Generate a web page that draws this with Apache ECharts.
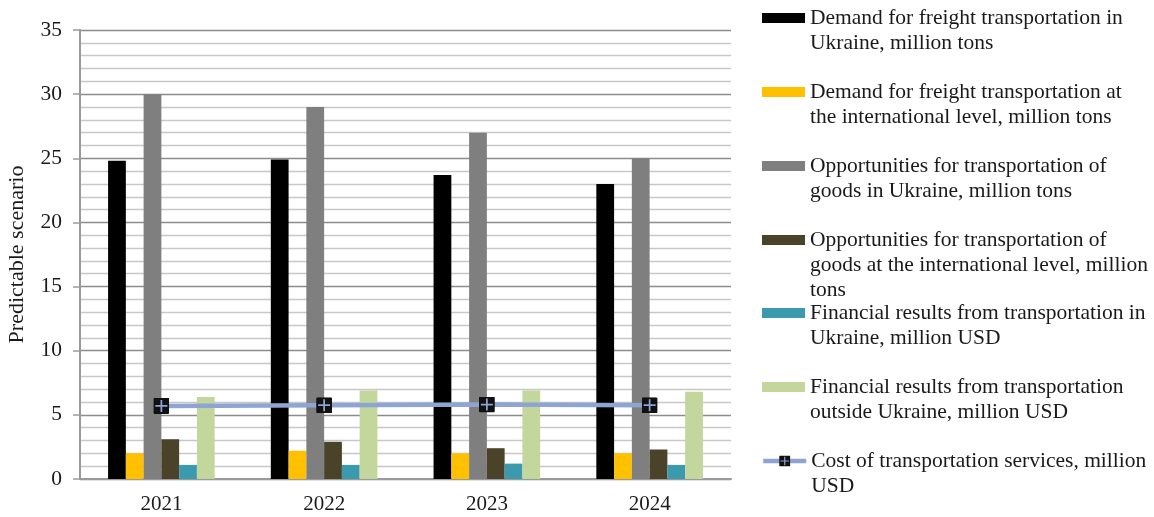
<!DOCTYPE html>
<html>
<head>
<meta charset="utf-8">
<script src="https://cdn.jsdelivr.net/npm/echarts@6/dist/echarts.min.js"></script>
<style>html,body{margin:0;padding:0;background:#fff;}#c{width:1154px;height:517px;}</style>
</head>
<body>
<div id="c"></div>
<script>
const categories = ['2021', '2022', '2023', '2024'];
const seriesNames = [
  'Demand for freight transportation in Ukraine, million tons',
  'Demand for freight transportation at the international level, million tons',
  'Opportunities for transportation of goods in Ukraine, million tons',
  'Opportunities for transportation of goods at the international level, million tons',
  'Financial results from transportation in Ukraine, million USD',
  'Financial results from transportation outside Ukraine, million USD',
  'Cost of transportation services, million USD'
];
const legendLines = [
  'Demand for freight transportation in\nUkraine, million tons',
  'Demand for freight transportation at\nthe international level, million tons',
  'Opportunities for transportation of\ngoods in Ukraine, million tons',
  'Opportunities for transportation of\ngoods at the international level, million\ntons',
  'Financial results from transportation in\nUkraine, million USD',
  'Financial results from transportation\noutside Ukraine, million USD',
  'Cost of transportation services, million\nUSD'
];
const demandUkraine = [24.8, 24.9, 23.7, 23.0];
const demandIntl = [2.0, 2.2, 2.0, 2.0];
const oppUkraine = [30, 29, 27, 25];
const oppIntl = [3.1, 2.9, 2.4, 2.3];
const finUkraine = [1.1, 1.1, 1.2, 1.1];
const finOutside = [6.4, 6.9, 6.9, 6.8];
const costServices = [5.7, 5.75, 5.8, 5.75];
const yTicks = [0, 5, 10, 15, 20, 25, 30, 35];

const colors = ['#000000', '#FFC000', '#7F7F7F', '#4A4229', '#3B9AAD', '#C3D69B', '#8EA4D2'];
const barData = [demandUkraine, demandIntl, oppUkraine, oppIntl, finUkraine, finOutside];

const FONT = '"Liberation Serif", "DejaVu Serif", serif';
const svg = "<svg xmlns='http://www.w3.org/2000/svg' width='32' height='32'><rect x='0' y='0' width='32' height='32' rx='3' fill='#111111'/><path d='M16 4V28M4 16H28' stroke='#8EA4D2' stroke-width='3.5'/></svg>";
const markerSymbol = 'image://data:image/svg+xml;charset=utf-8,' + encodeURIComponent(svg);

const series = barData.map((d, i) => ({
  name: seriesNames[i],
  type: 'bar',
  data: d,
  barGap: '0%',
  barCategoryGap: '34.5%',
  itemStyle: { color: colors[i] }
}));
series.push({
  name: seriesNames[6],
  type: 'line',
  data: costServices,
  symbol: markerSymbol,
  symbolSize: 16,
  z: 5,
  lineStyle: { color: colors[6], width: 4.5 },
  itemStyle: { color: '#111111' }
});

const firstLineCenters = [18, 92, 166, 240, 313, 387, 461];
const LH = 25;
const legends = seriesNames.map((name, i) => {
  const n = legendLines[i].split('\n').length;
  const isLine = i === 6;
  return {
    left: isLine ? 761 : 762,
    top: firstLineCenters[i] - (n - 0.5) * LH,
    orient: 'vertical',
    padding: 0,
    itemWidth: isLine ? 43 : 43,
    itemHeight: isLine ? 14 : 10,
    selectedMode: false,
    icon: isLine ? undefined : 'rect',
    lineStyle: { width: 4.5 },
    data: [name],
    formatter: () => '\n'.repeat(n - 1) + legendLines[i],
    textStyle: {
      fontFamily: FONT,
      fontSize: 21.5,
      lineHeight: LH,
      color: '#1a1a1a'
    }
  };
});

const chart = echarts.init(document.getElementById('c'));
chart.setOption({
  animation: false,
  color: colors,
  legend: legends,
  grid: { left: 80, right: 423, top: 30, bottom: 38, containLabel: false, outerBoundsMode: 'none' },
  xAxis: {
    type: 'category',
    data: categories,
    axisLine: { show: true, lineStyle: { color: '#9a9a9a', width: 2 } },
    axisTick: { show: false },
    axisLabel: { fontFamily: FONT, fontSize: 21, color: '#1a1a1a', margin: 15 }
  },
  yAxis: {
    type: 'value',
    min: 0,
    max: 35,
    interval: 5,
    name: 'Predictable scenario',
    nameLocation: 'middle',
    nameGap: 52,
    nameTextStyle: { fontFamily: FONT, fontSize: 22, color: '#1a1a1a' },
    axisLine: { show: true, lineStyle: { color: '#9a9a9a', width: 2 } },
    axisTick: { show: true, length: 7, lineStyle: { color: '#9a9a9a', width: 1.5 } },
    axisLabel: {
      fontFamily: FONT, fontSize: 21.5, color: '#1a1a1a', margin: 18,
      formatter: v => (yTicks.indexOf(v) >= 0 ? String(v) : '')
    },
    splitLine: { show: true, lineStyle: { color: '#8c8c8c', width: 1.3 } },
    minorTick: { show: false, splitNumber: 5 },
    minorSplitLine: { show: true, lineStyle: { color: '#c8c8c8', width: 1.3 } }
  },
  series: series
});
</script>
</body>
</html>
